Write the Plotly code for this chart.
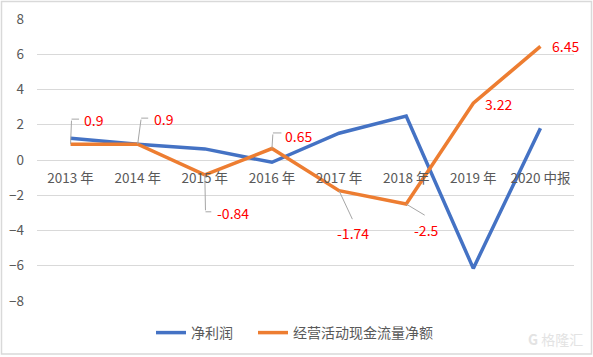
import plotly.graph_objects as go

categories = ["2013 年", "2014 年", "2015 年", "2016 年", "2017 年", "2018 年", "2019 年", "2020 中报"]
net_profit = [1.23, 0.9, 0.63, -0.13, 1.52, 2.5, -6.15, 1.8]
op_cash_flow = [0.9, 0.9, -0.84, 0.65, -1.74, -2.5, 3.22, 6.45]
y_ticks = [-8, -6, -4, -2, 0, 2, 4, 6, 8]

BLUE = "#4472C4"
ORANGE = "#ED7D31"
GRID = "#D9D9D9"
LEADER = "#A6A6A6"
FONT = "Noto Sans CJK SC"

fig = go.Figure()
fig.add_trace(go.Scatter(x=categories, y=net_profit, mode="lines", name="净利润",
                         line=dict(color=BLUE, width=3.5), legend="legend"))
fig.add_trace(go.Scatter(x=categories, y=op_cash_flow, mode="lines", name="经营活动现金流量净额",
                         line=dict(color=ORANGE, width=3.5), legend="legend2"))

# label styles per point: (leader tail dx, dy, elbow length, text dx, dy, xanchor)
label_style = [
    (1, -25, 9, 11, 24, "left"),
    (3.5, -26, 8.5, 14, 25, "left"),
    (0.7, 37, 7.3, 10, -38, "left"),
    (1, -15.6, 10, 11, 13, "left"),
    (14, 30, 0, 14, -42, "center"),
    (20, 12, 0, 20, -26, "center"),
    (None, None, 0, 10, -1, "left"),
    (None, None, 0, 10, 0, "left"),
]

annotations = []
for cat, val, (lx, ly, el, tx, ty, xa) in zip(categories, op_cash_flow, label_style):
    if lx is not None:
        annotations.append(dict(x=cat, y=val, xref="x", yref="y", text="", showarrow=True,
                                arrowhead=0, arrowwidth=1, arrowcolor=LEADER,
                                ax=lx, ay=ly, axref="pixel", ayref="pixel", standoff=0, startstandoff=0))
        if el:
            annotations.append(dict(x=cat, y=val, xref="x", yref="y", text="", showarrow=True,
                                    arrowhead=0, arrowwidth=1, arrowcolor=LEADER,
                                    xshift=lx, yshift=-ly, ax=el, ay=0, standoff=0, startstandoff=0))
    annotations.append(dict(x=cat, y=val, xref="x", yref="y", text=f"{val:g}", showarrow=False,
                            xshift=tx, yshift=ty, xanchor=xa, yanchor="middle",
                            font=dict(family=FONT, size=14, color="#FF0000")))

annotations.append(dict(xref="paper", yref="paper", x=(585 - 37) / 537, y=(301 - 339) / 282,
                        xanchor="right", yanchor="middle", text="<b>G</b> 格隆汇", showarrow=False,
                        font=dict(family=FONT, size=14, color="#E3E3E3")))

legend_style = dict(orientation="h", xanchor="left", y=(301 - 333) / 282, yanchor="middle",
                    font=dict(family=FONT, size=14, color="#595959"), itemwidth=30,
                    bgcolor="rgba(0,0,0,0)")

fig.update_layout(
    width=593, height=357,
    margin=dict(l=37, r=19, t=19, b=56, autoexpand=False),
    paper_bgcolor="white", plot_bgcolor="white",
    font=dict(family=FONT, size=13, color="#595959"),
    showlegend=True,
    legend=dict(legend_style, x=(151 - 37) / 537),
    legend2=dict(legend_style, x=(253 - 37) / 537),
    xaxis=dict(type="category", range=[-0.5, len(categories) - 0.5], showgrid=False,
               showline=False, zeroline=False, anchor="free", position=0.5, automargin=False,
               ticks="", ticklabelstandoff=8, tickfont=dict(family=FONT, size=13.5, color="#595959")),
    yaxis=dict(range=[-8, 8], tickvals=y_ticks, showgrid=True, gridcolor=GRID, gridwidth=1,
               zeroline=True, zerolinecolor=GRID, zerolinewidth=1, showline=False, automargin=False,
               ticks="", ticklabelstandoff=12, tickfont=dict(family=FONT, size=13.5, color="#595959")),
    annotations=annotations,
    shapes=[dict(type="rect", xref="paper", yref="paper",
                 x0=(1.5 - 37) / 537, x1=(591.5 - 37) / 537,
                 y0=(301 - 354) / 282, y1=(301 - 1.5) / 282,
                 line=dict(color=GRID, width=1.5), fillcolor="rgba(0,0,0,0)", layer="below")],
)

fig.write_html("out.html", post_script="document.body.style.margin='0';",
               config={"displayModeBar": False})
